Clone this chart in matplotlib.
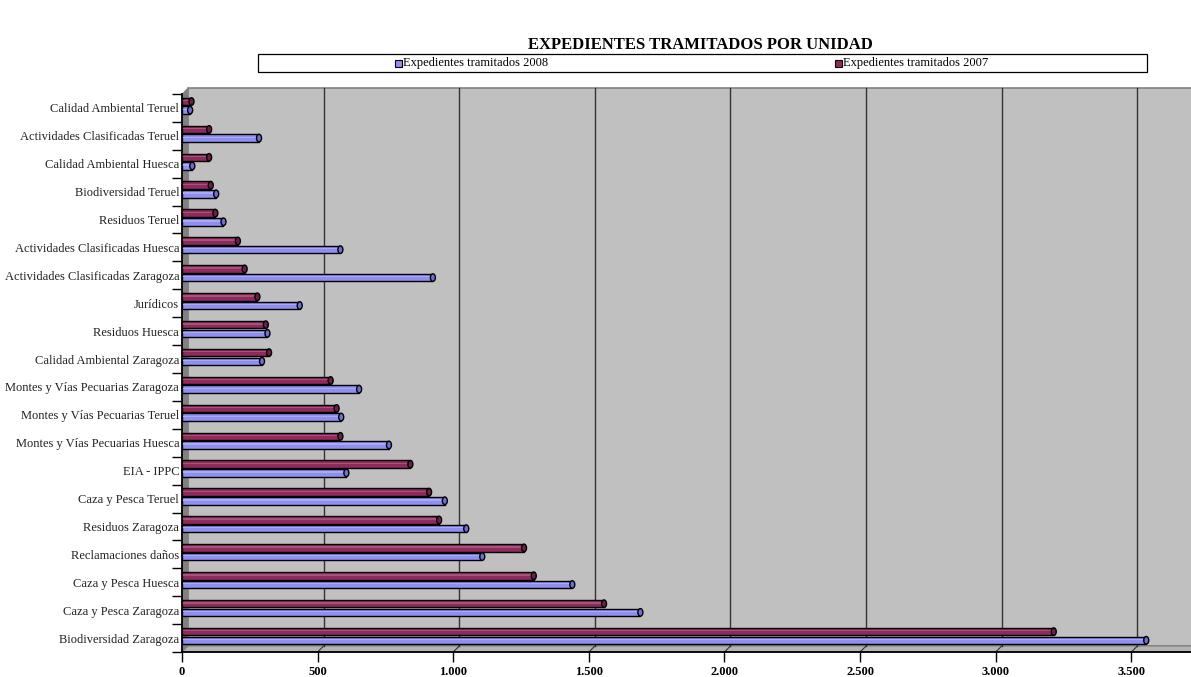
import matplotlib
matplotlib.use("Agg")
import matplotlib.pyplot as plt
from matplotlib.patches import Rectangle, Polygon, Ellipse
import numpy as np

categories = [
    "Calidad Ambiental Teruel", "Actividades Clasificadas Teruel", "Calidad Ambiental Huesca",
    "Biodiversidad Teruel", "Residuos Teruel", "Actividades Clasificadas Huesca",
    "Actividades Clasificadas Zaragoza", "Jurídicos", "Residuos Huesca",
    "Calidad Ambiental Zaragoza", "Montes y Vías Pecuarias Zaragoza", "Montes y Vías Pecuarias Teruel",
    "Montes y Vías Pecuarias Huesca", "EIA - IPPC", "Caza y Pesca Teruel", "Residuos Zaragoza",
    "Reclamaciones daños", "Caza y Pesca Huesca", "Caza y Pesca Zaragoza", "Biodiversidad Zaragoza",
]
v2008 = [30, 284, 38, 126, 153, 584, 925, 434, 315, 295, 653, 587, 763, 606, 969, 1048, 1107, 1439, 1690, 3555]
v2007 = [35, 100, 100, 106, 123, 206, 231, 278, 309, 321, 548, 570, 584, 842, 911, 948, 1261, 1297, 1556, 3214]
xticks = [0, 500, 1000, 1500, 2000, 2500, 3000, 3500]
xticklabels = ["0", "500", "1.000", "1.500", "2.000", "2.500", "3.000", "3.500"]
title = "EXPEDIENTES TRAMITADOS POR UNIDAD"
label2008 = "Expedientes tramitados 2008"
label2007 = "Expedientes tramitados 2007"

SERIF = ["Liberation Serif", "DejaVu Serif"]
W, H = 1191, 677
fig = plt.figure(figsize=(W / 100, H / 100), dpi=100)

ax_l, ax_r, ax_t, ax_b = 182, 1191, 94, 652
ax = fig.add_axes([ax_l / W, 1 - ax_b / H, (ax_r - ax_l) / W, (ax_b - ax_t) / H])
XMAX = 3720
n = len(categories)
ax.set_xlim(0, XMAX)
ax.set_ylim(n - 0.5, -0.5)
ax.set_facecolor("none")

pxx = (ax_r - ax_l) / XMAX
pxy = (ax_b - ax_t) / n
DX = 6 / pxx
DY = 6 / pxy
top, bot = -0.5, n - 0.5

# back wall
ax.add_patch(Rectangle((DX, top - DY), XMAX + DX, n, facecolor="#C0C0C0",
                       edgecolor="#808080", lw=1.2, clip_on=False, zorder=0))
# side wall
ax.add_patch(Polygon([(0, top), (DX, top - DY), (DX, bot - DY), (0, bot)], closed=True,
                     facecolor="#808080", edgecolor="#808080", lw=0.5, clip_on=False, zorder=0.5))
# floor
ax.add_patch(Polygon([(0, bot), (DX, bot - DY), (XMAX + 2 * DX, bot - DY), (XMAX + 2 * DX, bot)], closed=True,
                     facecolor="#B4B4B4", edgecolor="#808080", lw=0.8, clip_on=False, zorder=0.5))
# gridlines on back wall
for t in xticks[1:]:
    ax.plot([t + DX, t + DX], [top - DY, bot - DY], color="#333333", lw=1.0, zorder=1, clip_on=False)
    ax.plot([t, t + DX], [bot, bot - DY], color="#333333", lw=0.8, zorder=1, clip_on=False)

y = np.arange(n)
bh = 0.27
off07, off08 = -0.23, 0.08
c08, c08d = "#8F8FEF", "#6E6ED8"
c07, c07d = "#8E2B5C", "#6E1E45"
ax.barh(y + off07, v2007, height=bh, color=c07, edgecolor="black", lw=1.0, zorder=3)
ax.barh(y + off08, v2008, height=bh, color=c08, edgecolor="black", lw=1.0, zorder=3)
# highlight stripes
ax.barh(y + off07 - bh * 0.12, v2007, height=bh * 0.18, color="#A8517C", lw=0, zorder=3.5)
ax.barh(y + off08 - bh * 0.12, v2008, height=bh * 0.18, color="#A9A9F7", lw=0, zorder=3.5)
capw = 5 / pxx
for yi, a, b in zip(y, v2007, v2008):
    ax.add_patch(Ellipse((a, yi + off07), capw, bh, facecolor=c07d, edgecolor="black", lw=1.0, zorder=4))
    ax.add_patch(Ellipse((b, yi + off08), capw, bh, facecolor=c08d, edgecolor="black", lw=1.0, zorder=4))

for s in ["top", "right"]:
    ax.spines[s].set_visible(False)
ax.spines["left"].set_color("black")
ax.spines["left"].set_linewidth(1.3)
ax.spines["bottom"].set_color("black")
ax.spines["bottom"].set_linewidth(1.3)
ax.spines["left"].set_zorder(5)

ax.set_xticks(xticks)
ax.set_xticklabels(xticklabels, fontfamily=SERIF, fontweight="bold", fontsize=9)
ax.tick_params(axis="x", direction="out", length=7, width=1, color="black", pad=3)
ax.set_yticks(y)
ax.set_yticklabels(categories, fontfamily=SERIF, fontsize=9, color="#222222")
ax.tick_params(axis="y", which="major", length=0, pad=2)
ax.set_yticks(np.arange(n + 1) - 0.5, minor=True)
ax.tick_params(axis="y", which="minor", direction="out", length=7.5, width=1, color="black")

# title
fig.text(700 / W, 1 - 45 / H, title, ha="center", va="center", fontfamily=SERIF,
         fontweight="bold", fontsize=12)
# legend box
fig.patches.append(Rectangle((258 / W, 1 - 72 / H), (1147 - 258) / W, 18 / H, transform=fig.transFigure,
                             facecolor="white", edgecolor="black", lw=0.9, figure=fig))
for xs, col, lab in [(398, c08, label2008), (838, c07, label2007)]:
    fig.patches.append(Rectangle(((xs - 3.5) / W, 1 - 66.5 / H), 7 / W, 7 / H, transform=fig.transFigure,
                                 facecolor=col, edgecolor="black", lw=0.8, figure=fig))
    fig.text((xs + 5) / W, 1 - 63 / H, lab, ha="left", va="center", fontfamily=SERIF, fontsize=9)

fig.savefig("out.png", dpi=100)
